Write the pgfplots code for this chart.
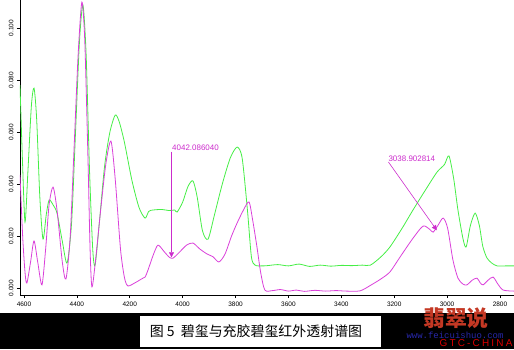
\documentclass[border=0pt]{standalone}
\usepackage{fontspec}
\setmainfont{Liberation Sans}
\newfontfamily\cjk{Noto Sans CJK SC}
\newfontfamily\urlfont{Liberation Mono}
\newfontfamily\spaced[LetterSpace=22]{Liberation Sans}
\usepackage{pgfplots}
\pgfplotsset{compat=1.18}
\usetikzlibrary{arrows.meta,calc}
\definecolor{irgreen}{RGB}{70,238,70}
\definecolor{irmag}{RGB}{218,64,218}
\definecolor{notecol}{RGB}{204,44,204}
\definecolor{markred}{RGB}{196,56,36}
\definecolor{urlblue}{RGB}{40,40,170}

\begin{document}
\begin{tikzpicture}
\begin{axis}[
  name=ax, at={(0,0)}, anchor=south west,
  width=494bp, height=295bp, scale only axis,
  x dir=reverse,
  xmin=2747, xmax=4615,
  ymin=-0.0027, ymax=0.1108,
  axis x line*=bottom, axis y line*=left,
  axis line style={black, line width=0.8bp},
  xtick={2800,3000,...,4600},
  ytick={0,0.02,...,0.1},
  tick align=outside,
  major tick length=3bp,
  tick style={black, line width=0.5bp},
  /pgf/number format/assume math mode=true,
  x tick label style={font=\fontsize{6.5}{7}\selectfont, /pgf/number format/set thousands separator={}},
  y tick label style={font=\fontsize{6.5}{7}\selectfont, rotate=90, anchor=south,
    /pgf/number format/.cd, fixed, fixed zerofill, precision=3},
  scaled y ticks=false,
  clip=true,
]
% sample with filler (green)
\addplot[irgreen, line width=0.8bp, smooth, tension=0.45] coordinates {
(4615,0.0780) (4606,0.0500) (4596,0.0254) (4585,0.0450) (4572,0.0700)
(4562,0.0769) (4552,0.0650) (4540,0.0350) (4528,0.0188) (4516,0.0280)
(4505,0.0338) (4490,0.0320) (4475,0.0288) (4455,0.0180) (4437,0.0096)
(4420,0.0250) (4405,0.0600) (4390,0.0950) (4377,0.1088) (4365,0.0900)
(4352,0.0450) (4340,0.0150) (4331,0.0088) (4315,0.0250) (4295,0.0470)
(4275,0.0600) (4255,0.0665) (4240,0.0640) (4220,0.0560) (4192,0.0415)
(4165,0.0310) (4142,0.0269) (4128,0.0295) (4112,0.0300) (4080,0.0302)
(4050,0.0298) (4030,0.0300) (4021,0.0292) (4000,0.0330) (3980,0.0390)
(3961,0.0412) (3945,0.0350) (3925,0.0220) (3904,0.0188) (3880,0.0280)
(3850,0.0400) (3820,0.0500) (3794,0.0542) (3775,0.0500) (3755,0.0300)
(3740,0.0120) (3726,0.0088) (3700,0.0085) (3680,0.0086) (3640,0.0090)
(3600,0.0085) (3560,0.0092) (3520,0.0083) (3480,0.0088) (3440,0.0084)
(3400,0.0087) (3360,0.0086) (3320,0.0088) (3290,0.0088) (3250,0.0120)
(3216,0.0158) (3170,0.0230) (3129,0.0300) (3080,0.0380) (3038,0.0446)
(3010,0.0475) (2993,0.0508) (2975,0.0420) (2959,0.0300) (2940,0.0190)
(2928,0.0158) (2912,0.0240) (2894,0.0288) (2878,0.0240) (2865,0.0160)
(2849,0.0115) (2830,0.0095) (2811,0.0085) (2780,0.0085) (2747,0.0085)
};
% natural tourmaline (magenta)
\addplot[irmag, line width=0.8bp, smooth, tension=0.45] coordinates {
(4615,0.0435) (4605,0.0200) (4596,0.0060) (4589,0.0019) (4575,0.0100)
(4562,0.0181) (4548,0.0100) (4532,0.0012) (4518,0.0150) (4505,0.0320)
(4490,0.0388) (4475,0.0300) (4455,0.0100) (4441,0.0035) (4425,0.0200)
(4410,0.0550) (4395,0.0900) (4381,0.1100) (4370,0.0950) (4358,0.0500)
(4350,0.0150) (4343,0.0004) (4330,0.0100) (4310,0.0300) (4290,0.0480)
(4271,0.0565) (4255,0.0420) (4235,0.0150) (4220,0.0040) (4207,0.0008)
(4180,0.0020) (4155,0.0035) (4142,0.0042) (4131,0.0069) (4110,0.0130)
(4093,0.0165) (4070,0.0140) (4050,0.0118) (4036,0.0115) (4010,0.0140)
(3985,0.0165) (3961,0.0173) (3935,0.0150) (3908,0.0131) (3885,0.0120)
(3863,0.0100) (3840,0.0130) (3815,0.0200) (3794,0.0250) (3770,0.0300)
(3749,0.0331) (3735,0.0260) (3719,0.0158) (3705,0.0060) (3689,-0.0008)
(3660,-0.0010) (3630,-0.0006) (3600,-0.0012) (3570,-0.0008) (3540,-0.0013)
(3500,-0.0009) (3460,-0.0012) (3420,-0.0010) (3380,-0.0012) (3329,-0.0011)
(3290,0.0010) (3250,0.0035) (3216,0.0062) (3178,0.0119) (3130,0.0190)
(3091,0.0238) (3065,0.0225) (3053,0.0215) (3035,0.0240) (3015,0.0269)
(2998,0.0230) (2978,0.0108) (2959,0.0038) (2940,0.0015) (2925,0.0012)
(2905,0.0030) (2887,0.0038) (2875,0.0020) (2864,0.0012) (2845,0.0030)
(2826,0.0042) (2808,0.0015) (2788,-0.0008) (2747,-0.0012)
};
% peak annotations
\draw[notecol, line width=0.6bp, -{Triangle[length=5bp,width=5bp]}]
  (axis cs:4042.09,0.0525) -- (axis cs:4042.09,0.0118);
\node[notecol, anchor=south west, inner sep=0.5bp, font=\fontsize{8}{8}\selectfont]
  at (axis cs:4042.09,0.0525) {4042.086040};
\draw[notecol, line width=0.6bp, -{Triangle[length=5bp,width=5bp]}]
  (axis cs:3222,0.0485) -- (axis cs:3038.90,0.0222);
\node[notecol, anchor=south west, inner sep=0.5bp, font=\fontsize{8}{8}\selectfont]
  at (axis cs:3224,0.0485) {3038.902814};
\end{axis}
% page frame, caption band and site marks, placed from the axis corner
\pgfresetboundingbox
\begin{scope}[shift={(ax.south west)}, x=1bp, y=1bp]
\path[use as bounding box] (-20,-54) rectangle (494,295);
\fill[black] (-20,-54) rectangle (494,-18);
\fill[white] (120,-52) rectangle (361,-21);
\node[font=\cjk\fontsize{14}{14}\selectfont, inner sep=0pt] at (236,-36.5) {图 5\ \ 碧玺与充胶碧玺红外透射谱图};
\node[font=\cjk\bfseries\fontsize{22}{22}\selectfont, text=markred, inner sep=0pt] at (436,-23.5) {翡翠说};
\node[font=\urlfont\fontsize{9}{9}\selectfont, text=urlblue, inner sep=0pt] at (435,-40) {www.feicuishuo.com};
\node[font=\spaced\fontsize{10}{10}\selectfont, text=red!85!black, inner sep=0pt] at (456,-48) {GTC-CHINA};
\end{scope}
\end{tikzpicture}
\end{document}
